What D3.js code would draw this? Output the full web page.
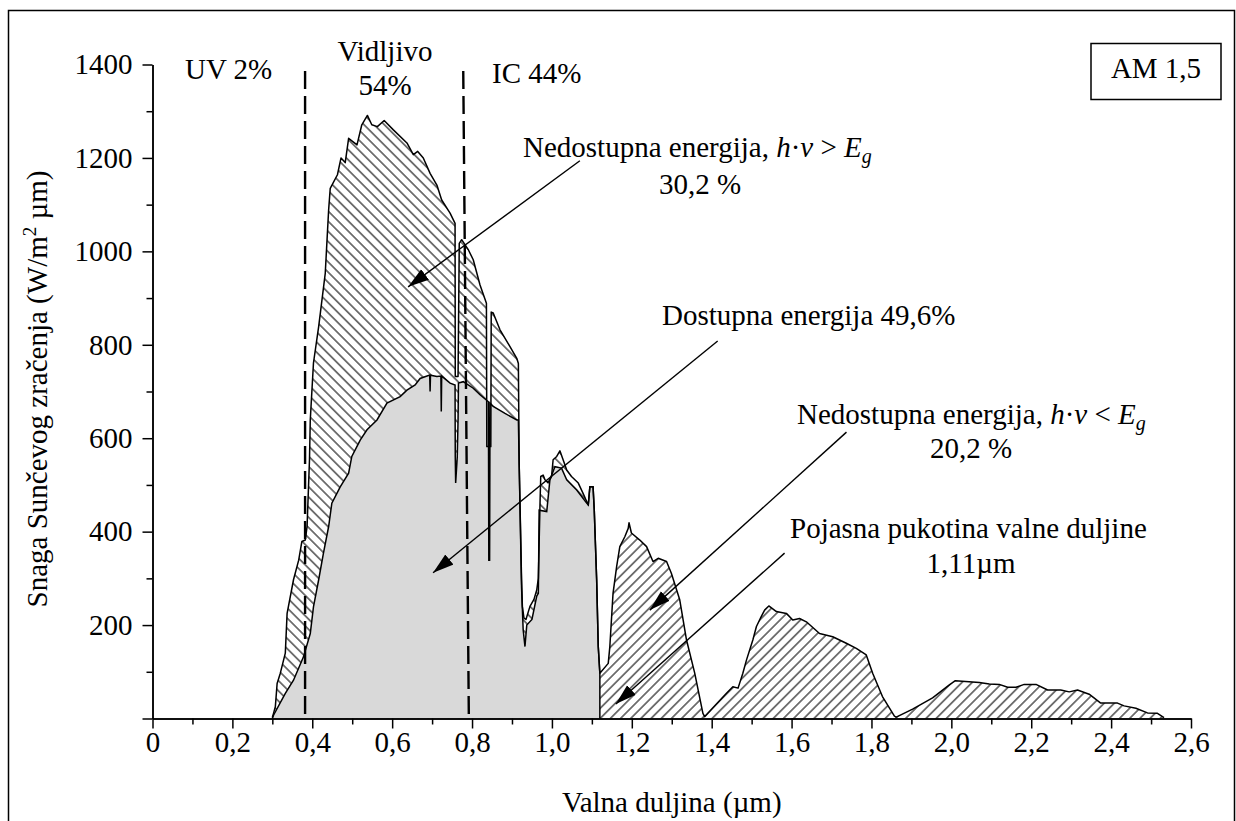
<!DOCTYPE html>
<meta charset="utf-8">
<style>
  body { margin: 0; background: #fff; }
  svg { display: block; }
  text { font-family: "Liberation Serif", "Times New Roman", serif; font-size: 29px; fill: #000; }
  .axis path, .axis line { stroke: #000; stroke-width: 1.5; }
  .axis text { font-family: "Liberation Serif", "Times New Roman", serif; font-size: 29px; }
</style>
<body>
<script src="https://d3js.org/d3.v7.min.js"></script>
<script>

// AM 1,5 spectrum: [wavelength in um, power in W/m2 um]
var spectrum = [
  [0.300, 2], [0.303, 11], [0.3075, 25], [0.312, 75], [0.320, 97], [0.3325, 140],
  [0.337, 225], [0.353, 297], [0.366, 339], [0.374, 379], [0.3825, 382], [0.387, 411],
  [0.393, 553], [0.395, 639], [0.403, 761], [0.416, 839], [0.4325, 953], [0.441, 1089],
  [0.445, 1135], [0.463, 1164], [0.472, 1200], [0.4825, 1190], [0.491, 1242], [0.512, 1228],
  [0.524, 1271], [0.538, 1291], [0.549, 1271], [0.563, 1267], [0.580, 1280], [0.603, 1260],
  [0.637, 1232], [0.653, 1207], [0.664, 1214], [0.678, 1200], [0.695, 1167], [0.712, 1142],
  [0.724, 1110], [0.745, 1082], [0.7575, 1060], [0.758, 732], [0.765, 732], [0.768, 1017],
  [0.774, 1025], [0.791, 1003], [0.803, 982], [0.820, 928], [0.836, 889], [0.837, 582],
  [0.847, 582], [0.848, 870], [0.853, 868], [0.870, 832], [0.895, 796], [0.912, 771],
  [0.916, 760], [0.918, 546], [0.924, 297], [0.926, 240], [0.930, 215], [0.935, 212],
  [0.945, 240], [0.955, 255], [0.962, 275], [0.966, 300], [0.970, 453], [0.972, 518],
  [0.978, 521], [0.9825, 511], [0.990, 505], [0.999, 518], [1.003, 554], [1.012, 561],
  [1.020, 573], [1.028, 554], [1.037, 532], [1.049, 518], [1.066, 504], [1.078, 482],
  [1.091, 457], [1.095, 496], [1.103, 496], [1.106, 446], [1.112, 297], [1.116, 154],
  [1.120, 97], [1.141, 118], [1.145, 154], [1.153, 268], [1.162, 325], [1.170, 368],
  [1.1825, 389], [1.191, 407], [1.193, 419], [1.199, 397], [1.220, 382], [1.237, 368],
  [1.253, 336], [1.266, 343], [1.287, 336], [1.299, 311], [1.320, 254], [1.337, 168],
  [1.3575, 97], [1.378, 11], [1.3825, 4], [1.437, 54], [1.453, 68], [1.466, 65],
  [1.478, 97], [1.487, 125], [1.503, 168], [1.512, 197], [1.524, 218], [1.5325, 232],
  [1.543, 241], [1.562, 229], [1.587, 225], [1.603, 211], [1.620, 214], [1.637, 207],
  [1.670, 182], [1.703, 175], [1.737, 161], [1.762, 150], [1.787, 136], [1.803, 97],
  [1.8275, 47], [1.8575, 5], [1.862, 3], [1.903, 20], [1.953, 44], [1.995, 72],
  [2.010, 81], [2.070, 77], [2.095, 74], [2.120, 73], [2.141, 67], [2.162, 67],
  [2.1825, 73], [2.212, 73], [2.241, 61], [2.274, 61], [2.295, 57], [2.316, 61],
  [2.345, 52], [2.374, 33], [2.416, 33], [2.4325, 27], [2.462, 22], [2.491, 12],
  [2.516, 11], [2.5325, 2]
];

// usable part of the spectrum (grey)
var available = [
  [0.300, 0], [0.303, 7], [0.3325, 54], [0.353, 82], [0.378, 132], [0.395, 182],
  [0.403, 239], [0.416, 297], [0.428, 354], [0.441, 411], [0.449, 461], [0.470, 496],
  [0.491, 525], [0.499, 561], [0.520, 596], [0.537, 618], [0.562, 639], [0.587, 675],
  [0.620, 689], [0.637, 703], [0.6575, 714], [0.670, 728], [0.694, 735], [0.695, 700],
  [0.696, 735], [0.712, 732], [0.722, 733], [0.723, 657], [0.724, 733], [0.745, 718],
  [0.7575, 714], [0.758, 560], [0.759, 504], [0.763, 560], [0.765, 640], [0.766, 718],
  [0.778, 721], [0.803, 707], [0.820, 693], [0.841, 678], [0.842, 339], [0.844, 339],
  [0.845, 675], [0.853, 668], [0.8825, 653], [0.912, 639], [0.916, 639], [0.918, 546],
  [0.924, 280], [0.928, 190], [0.9325, 154], [0.937, 200], [0.950, 212], [0.962, 262],
  [0.966, 268], [0.968, 446], [0.987, 443], [0.995, 511], [1.0075, 539], [1.024, 536],
  [1.037, 511], [1.062, 489], [1.087, 461], [1.091, 457], [1.095, 496], [1.103, 496],
  [1.106, 446], [1.112, 297], [1.116, 154], [1.120, 97], [1.120, 0]
];

var bandGap = 1.12;
var regionEdges = [[0.382, 0.382], [0.778, 0.792]];   // top, bottom wavelength of dashed lines

var xTicks = [0, 0.2, 0.4, 0.6, 0.8, 1.0, 1.2, 1.4, 1.6, 1.8, 2.0, 2.2, 2.4, 2.6];
var xTickLabels = ["0", "0,2", "0,4", "0,6", "0,8", "1,0", "1,2", "1,4", "1,6", "1,8", "2,0", "2,2", "2,4", "2,6"];
var yTicks = [0, 200, 400, 600, 800, 1000, 1200, 1400];
var yTickLabels = ["", "200", "400", "600", "800", "1000", "1200", "1400"];

var width = 1236, height = 821;

var x = d3.scaleLinear().domain([0, 2.6]).range([152.5, 1191]);
var y = d3.scaleLinear().domain([0, 1400]).range([718.5, 64.5]);

var svg = d3.select('body').append('svg')
  .attr('width', width)
  .attr('height', height);

// outer frame
svg.append('rect')
  .attr('x', 8.5).attr('y', 10.5)
  .attr('width', 1226).attr('height', 830)
  .attr('fill', 'none').attr('stroke', '#000').attr('stroke-width', 1.5);

var defs = svg.append('defs');

function hatch(id, angle) {
  var p = defs.append('pattern')
    .attr('id', id)
    .attr('patternUnits', 'userSpaceOnUse')
    .attr('width', 7.2).attr('height', 10)
    .attr('patternTransform', 'rotate(' + angle + ')');
  p.append('line')
    .attr('x1', 3.6).attr('x2', 3.6).attr('y1', -1).attr('y2', 11)
    .attr('stroke', '#333').attr('stroke-width', 1.3);
}
hatch('hatchBack', -45);
hatch('hatchFwd', 45);

defs.append('marker')
  .attr('id', 'arrow')
  .attr('markerUnits', 'userSpaceOnUse')
  .attr('viewBox', '0 -7 22 14')
  .attr('refX', 21).attr('refY', 0)
  .attr('markerWidth', 22).attr('markerHeight', 14)
  .attr('orient', 'auto')
  .append('path')
  .attr('d', 'M0,-6.5L21,0L0,6.5Z')
  .attr('fill', '#000');

var area = d3.area()
  .x(function (d) { return x(d[0]) })
  .y0(y(0))
  .y1(function (d) { return y(d[1]) });

var line = d3.line()
  .x(function (d) { return x(d[0]) })
  .y(function (d) { return y(d[1]) });

var shortWave = spectrum.filter(function (d) { return d[0] <= bandGap }).concat([[bandGap, 0]]);
var longWave = [[bandGap, 0]].concat(spectrum.filter(function (d) { return d[0] >= bandGap }));

svg.append('path').attr('d', area(shortWave)).attr('fill', 'url(#hatchBack)');
svg.append('path').attr('d', area(longWave)).attr('fill', 'url(#hatchFwd)');
svg.append('path').attr('d', area(available)).attr('fill', '#d9d9d9');

svg.append('path').attr('d', line(available))
  .attr('fill', 'none').attr('stroke', '#000').attr('stroke-width', 1.5);
svg.append('path').attr('d', line(spectrum))
  .attr('fill', 'none').attr('stroke', '#000').attr('stroke-width', 1.5)
  .attr('stroke-linejoin', 'round');

// dashed band edges
svg.selectAll('.edge')
  .data(regionEdges)
  .enter().append('line')
  .attr('class', 'edge')
  .attr('x1', function (d) { return x(d[0]) })
  .attr('x2', function (d) { return x(d[1]) })
  .attr('y1', y(1386))
  .attr('y2', y(0))
  .attr('stroke', '#000')
  .attr('stroke-width', 2.4)
  .attr('stroke-dasharray', '18,7');

// axes
var xAxis = d3.axisBottom(x)
  .tickValues(xTicks)
  .tickFormat(function (d, i) { return xTickLabels[i] })
  .tickSize(10).tickSizeOuter(0).tickPadding(3);

var xMinor = d3.axisBottom(x)
  .tickValues(d3.range(0.1, 2.6, 0.2))
  .tickFormat('')
  .tickSize(6).tickSizeOuter(0);

var yAxis = d3.axisLeft(y)
  .tickValues(yTicks)
  .tickFormat(function (d, i) { return yTickLabels[i] })
  .tickSize(10).tickSizeOuter(0).tickPadding(10);

var yMinor = d3.axisLeft(y)
  .tickValues(d3.range(100, 1400, 200))
  .tickFormat('')
  .tickSize(6).tickSizeOuter(0);

svg.append('g').attr('class', 'axis').attr('transform', 'translate(0,' + y(0) + ')').call(xMinor);
svg.append('g').attr('class', 'axis').attr('transform', 'translate(0,' + y(0) + ')').call(xAxis);
svg.append('g').attr('class', 'axis').attr('transform', 'translate(' + x(0) + ',0)').call(yMinor);
svg.append('g').attr('class', 'axis').attr('transform', 'translate(' + x(0) + ',0)').call(yAxis);

svg.selectAll('.axis text').attr('fill', '#000');

// axis titles
svg.append('text')
  .attr('x', (x(0) + x(2.6)) / 2)
  .attr('y', 812)
  .attr('text-anchor', 'middle')
  .text('Valna duljina (µm)');

var yTitle = svg.append('text')
  .attr('transform', 'translate(47,389) rotate(-90)')
  .attr('text-anchor', 'middle');
yTitle.append('tspan').text('Snaga Sunčevog zračenja (W/m');
yTitle.append('tspan').attr('dy', -11).attr('font-size', 19).text('2');
yTitle.append('tspan').attr('dy', 11).text(' µm)');

// region labels
svg.append('text').attr('x', 185).attr('y', 79).text('UV 2%');
svg.append('text').attr('x', 385).attr('y', 61).attr('text-anchor', 'middle').text('Vidljivo');
svg.append('text').attr('x', 385).attr('y', 95).attr('text-anchor', 'middle').text('54%');
svg.append('text').attr('x', 492).attr('y', 83).text('IC 44%');

// AM 1,5 box
svg.append('rect')
  .attr('x', 1091).attr('y', 43.5).attr('width', 130).attr('height', 56)
  .attr('fill', '#fff').attr('stroke', '#000').attr('stroke-width', 1.5);
svg.append('text').attr('x', 1156).attr('y', 78).attr('text-anchor', 'middle').text('AM 1,5');

// annotations with arrows
function energyLabel(g, px, py, sign) {
  var t = g.append('text').attr('x', px).attr('y', py);
  t.append('tspan').text('Nedostupna energija, ');
  t.append('tspan').attr('font-style', 'italic').text('h');
  t.append('tspan').text('·');
  t.append('tspan').attr('font-style', 'italic').text('v');
  t.append('tspan').text(' ' + sign + ' ');
  t.append('tspan').attr('font-style', 'italic').text('E');
  t.append('tspan').attr('font-style', 'italic').attr('font-size', 20).attr('dy', 6).text('g');
}

energyLabel(svg, 523, 157, '>');
svg.append('text').attr('x', 700).attr('y', 194).attr('text-anchor', 'middle').text('30,2 %');

svg.append('text').attr('x', 662).attr('y', 325).text('Dostupna energija 49,6%');

energyLabel(svg, 797, 424, '<');
svg.append('text').attr('x', 971).attr('y', 458).attr('text-anchor', 'middle').text('20,2 %');

svg.append('text').attr('x', 790).attr('y', 538).text('Pojasna pukotina valne duljine');
svg.append('text').attr('x', 971).attr('y', 573).attr('text-anchor', 'middle').text('1,11µm');

var arrows = [
  [[1.07, 1194], [0.640, 924]],
  [[1.415, 808], [0.7025, 312]],
  [[1.7375, 613], [1.245, 232]],
  [[1.5825, 354], [1.160, 31]]
];

svg.selectAll('.arrow')
  .data(arrows)
  .enter().append('line')
  .attr('class', 'arrow')
  .attr('x1', function (d) { return x(d[0][0]) })
  .attr('y1', function (d) { return y(d[0][1]) })
  .attr('x2', function (d) { return x(d[1][0]) })
  .attr('y2', function (d) { return y(d[1][1]) })
  .attr('stroke', '#000')
  .attr('stroke-width', 1.4)
  .attr('marker-end', 'url(#arrow)');

</script>
</body>
